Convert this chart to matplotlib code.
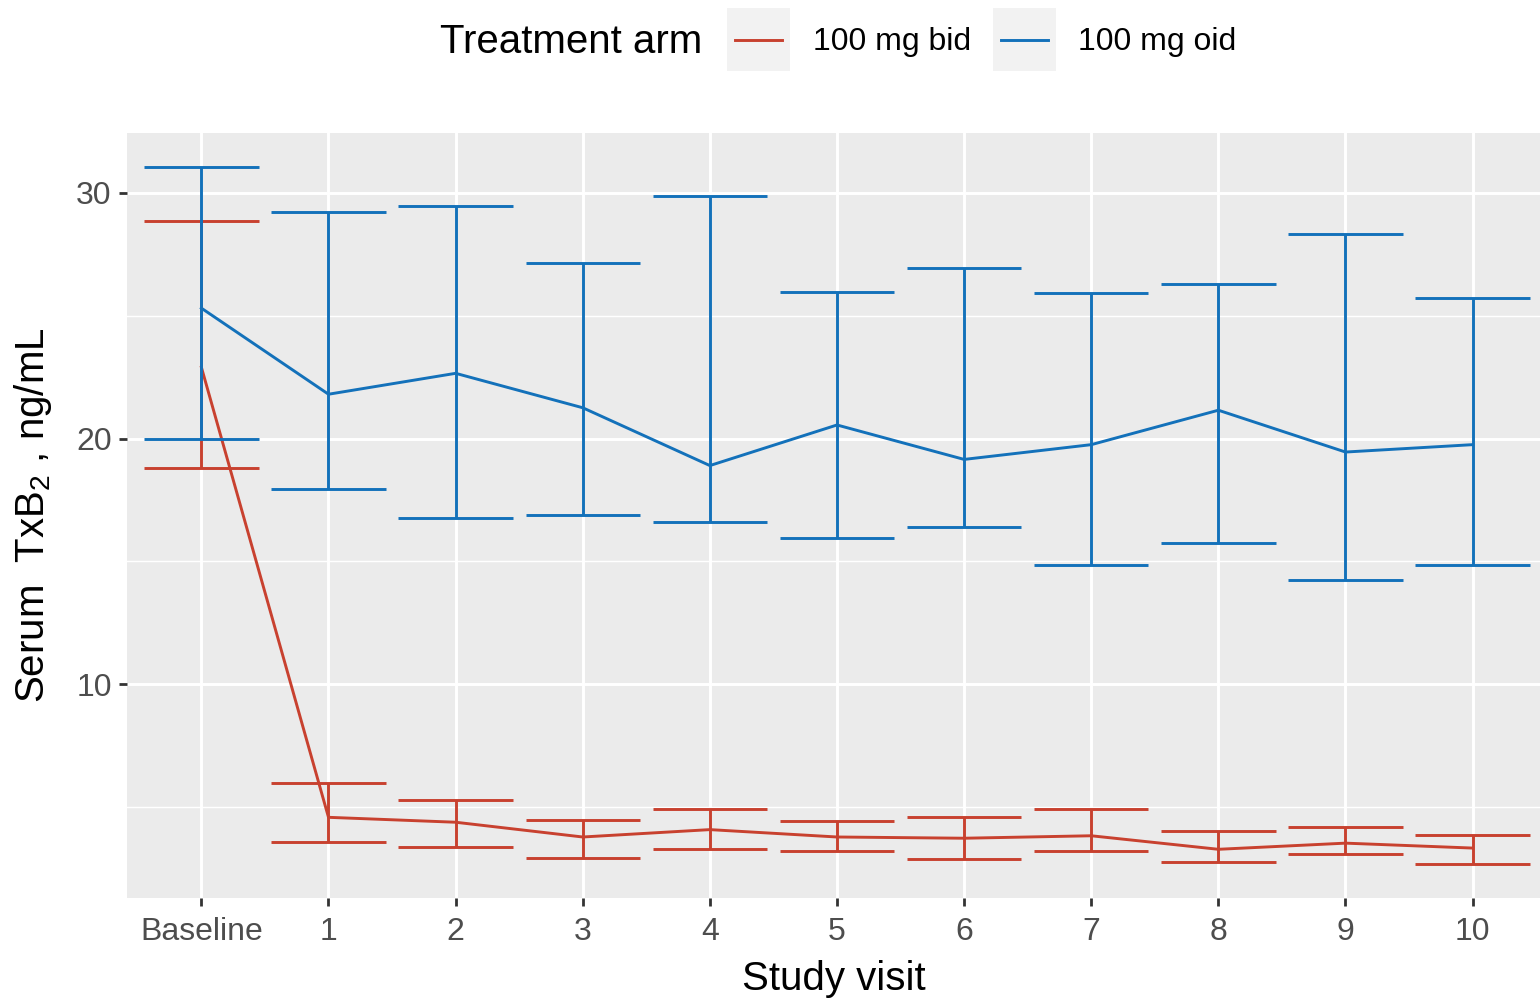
import matplotlib
matplotlib.use("Agg")
import matplotlib.pyplot as plt
from matplotlib.lines import Line2D
from matplotlib.patches import Rectangle
import numpy as np

# Study visits
visits = ["Baseline", "1", "2", "3", "4", "5", "6", "7", "8", "9", "10"]

# 100 mg bid arm: mean and interval bounds (ng/mL)
bid_mean = [22.9, 4.6, 4.4, 3.8, 4.1, 3.8, 3.75, 3.85, 3.3, 3.55, 3.35]
bid_low = [18.8, 3.6, 3.4, 2.95, 3.3, 3.25, 2.9, 3.25, 2.8, 3.1, 2.7]
bid_high = [28.85, 6.0, 5.3, 4.5, 4.95, 4.45, 4.6, 4.95, 4.05, 4.2, 3.9]

# 100 mg oid arm
oid_mean = [25.3, 21.8, 22.65, 21.25, 18.9, 20.55, 19.15, 19.75, 21.15, 19.45, 19.75]
oid_low = [20.0, 17.95, 16.75, 16.9, 16.6, 15.95, 16.4, 14.85, 15.75, 14.25, 14.85]
oid_high = [31.05, 29.2, 29.45, 27.15, 29.85, 25.95, 26.95, 25.9, 26.3, 28.3, 25.7]

arm_labels = ["100 mg bid", "100 mg oid"]
y_ticks = [10, 20, 30]

RED = "#C8412F"
BLUE = "#1371BA"
PANEL = "#EBEBEB"

plt.rcParams["font.family"] = ["Liberation Sans", "DejaVu Sans"]
plt.rcParams["mathtext.fontset"] = "custom"
plt.rcParams["mathtext.rm"] = "Liberation Sans"
plt.rcParams["mathtext.it"] = "Liberation Sans:italic"

W, H, DPI = 1540, 1001, 100
fig = plt.figure(figsize=(W / DPI, H / DPI), dpi=DPI)
fig.patch.set_facecolor("white")

px_l, px_r, px_t, px_b = 127, 1540, 133, 898
ax = fig.add_axes([px_l / W, 1 - px_b / H, (px_r - px_l) / W, (px_b - px_t) / H])
ax.set_facecolor(PANEL)
for s in ax.spines.values():
    s.set_visible(False)

x = np.arange(len(visits))
ax.set_xlim(-0.585, 10.53)
ax.set_ylim(1.32, 32.42)

# grid: major white lines, thinner minor lines between them
ax.set_yticks(y_ticks)
ax.set_yticks([5, 15, 25], minor=True)
ax.set_xticks(x)
ax.set_xticklabels(visits)
ax.grid(True, which="major", color="white", linewidth=2.1)
ax.grid(True, which="minor", axis="y", color="white", linewidth=1.05)
ax.set_axisbelow(True)

ax.tick_params(axis="both", which="major", length=6, width=2.0, color="#333333",
               labelsize=23, labelcolor="#4D4D4D")
ax.tick_params(axis="x", which="major", pad=8)
ax.tick_params(axis="y", which="major", pad=5)
ax.tick_params(axis="y", which="minor", length=0)

lw = 2.1
ax.plot(x, bid_mean, color=RED, linewidth=lw, zorder=3)
ax.plot(x, oid_mean, color=BLUE, linewidth=lw, zorder=3)

half = 0.45
for mean_lo, mean_hi, col in [(bid_low, bid_high, RED), (oid_low, oid_high, BLUE)]:
    ax.vlines(x, mean_lo, mean_hi, color=col, linewidth=lw, zorder=4)
    ax.hlines(mean_lo, x - half, x + half, color=col, linewidth=lw, zorder=4)
    ax.hlines(mean_hi, x - half, x + half, color=col, linewidth=lw, zorder=4)

ax.set_xlabel("Study visit", fontsize=29, color="black", labelpad=9)
ax.set_ylabel(r"Serum  TxB$_2$ , ng/mL", fontsize=29, color="black", labelpad=16)

# legend across the top
fy = 1 - 42 / H
fig.text(440 / W, fy, "Treatment arm", fontsize=29, ha="left", va="center")
for (kx, lab_x, col, lab) in [(727, 813, RED, arm_labels[0]), (993, 1078, BLUE, arm_labels[1])]:
    fig.add_artist(Rectangle((kx / W, 1 - 71 / H), 63 / W, 63 / H,
                             transform=fig.transFigure, facecolor="#F2F2F2",
                             edgecolor="none"))
    fig.add_artist(Line2D([(kx + 8) / W, (kx + 55) / W], [1 - 40 / H] * 2,
                          transform=fig.transFigure, color=col, linewidth=lw))
    fig.text(lab_x / W, fy, lab, fontsize=23, ha="left", va="center")

fig.savefig("out.png", dpi=DPI)
